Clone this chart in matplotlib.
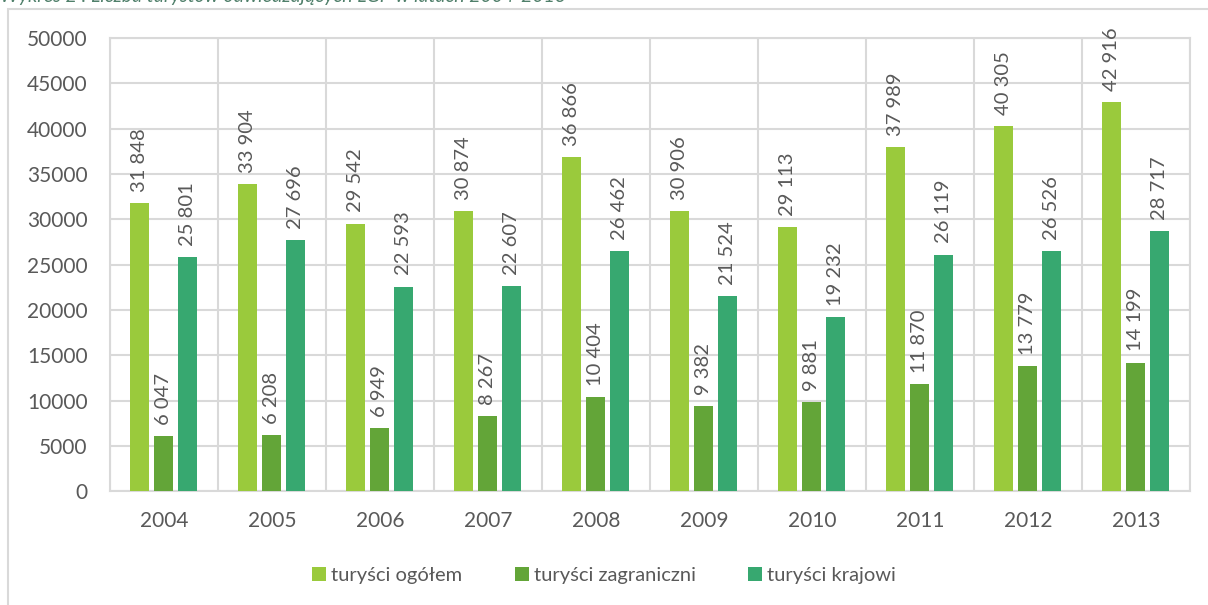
import matplotlib.pyplot as plt
import matplotlib.patches as mpatches
import numpy as np

years = ['2004', '2005', '2006', '2007', '2008', '2009', '2010', '2011', '2012', '2013']
ogolem = [31848, 33904, 29542, 30874, 36866, 30906, 29113, 37989, 40305, 42916]
zagraniczni = [6047, 6208, 6949, 8267, 10404, 9382, 9881, 11870, 13779, 14199]
krajowi = [25801, 27696, 22593, 22607, 26462, 21524, 19232, 26119, 26526, 28717]

names = ['turyści ogółem', 'turyści zagraniczni', 'turyści krajowi']
colors = ['#9aca3c', '#63a538', '#37a870']

plt.rcParams['font.family'] = ['Lato', 'DejaVu Sans']
text_col = '#595959'
grid_col = '#d9d9d9'

dpi = 100
fig = plt.figure(figsize=(1208 / dpi, 605 / dpi), dpi=dpi)
ax = fig.add_axes([0.091, 0.188, 0.894, 0.749])

x = np.arange(len(years))
w = 0.176
offs = [-0.222, 0, 0.222]
for vals, off, c, n in zip([ogolem, zagraniczni, krajowi], offs, colors, names):
    bars = ax.bar(x + off, vals, width=w, color=c, label=n, zorder=3)
    for b, v in zip(bars, vals):
        ax.annotate(f'{v:,}'.replace(',', ' '), (b.get_x() + b.get_width() / 2, v),
                    xytext=(0, 8), textcoords='offset points', rotation=90,
                    ha='center', va='bottom', fontsize=14.5, color=text_col)

ax.set_xlim(-0.5, len(years) - 0.5)
ax.set_ylim(0, 50000)
ax.set_yticks(range(0, 50001, 5000))
ax.set_xticks(x)
ax.set_xticklabels(years)
ax.set_xticks(np.arange(-0.5, len(years), 1), minor=True)
ax.grid(axis='y', color=grid_col, lw=1.5, zorder=0)
ax.grid(axis='x', which='minor', color=grid_col, lw=1.5, zorder=0)
ax.tick_params(which='both', length=0, labelsize=15, colors=text_col)
ax.tick_params(axis='x', pad=14)
ax.tick_params(axis='y', pad=16)
for s in ax.spines.values():
    s.set_color(grid_col)
    s.set_linewidth(1.5)

ax.legend(loc='center', bbox_to_anchor=(0.5, 0.049), bbox_transform=fig.transFigure,
          ncol=3, frameon=False, fontsize=14.5, labelcolor=text_col,
          handlelength=0.7, handleheight=0.7, handletextpad=0.25, columnspacing=2.6)

fig.patches.append(mpatches.Rectangle((8 / 1208, -0.1), 1.2, 1 - 9 / 605 + 0.1,
                                      transform=fig.transFigure, fill=False,
                                      edgecolor=grid_col, lw=1.5))
fig.text(0.0, 1.006, 'Wykres 2 : Liczba turystów odwiedzających LGP w latach 2004-2013',
         ha='left', va='center', fontsize=14, style='italic', color='#4f7f6a')

fig.savefig('out.png', dpi=dpi)
